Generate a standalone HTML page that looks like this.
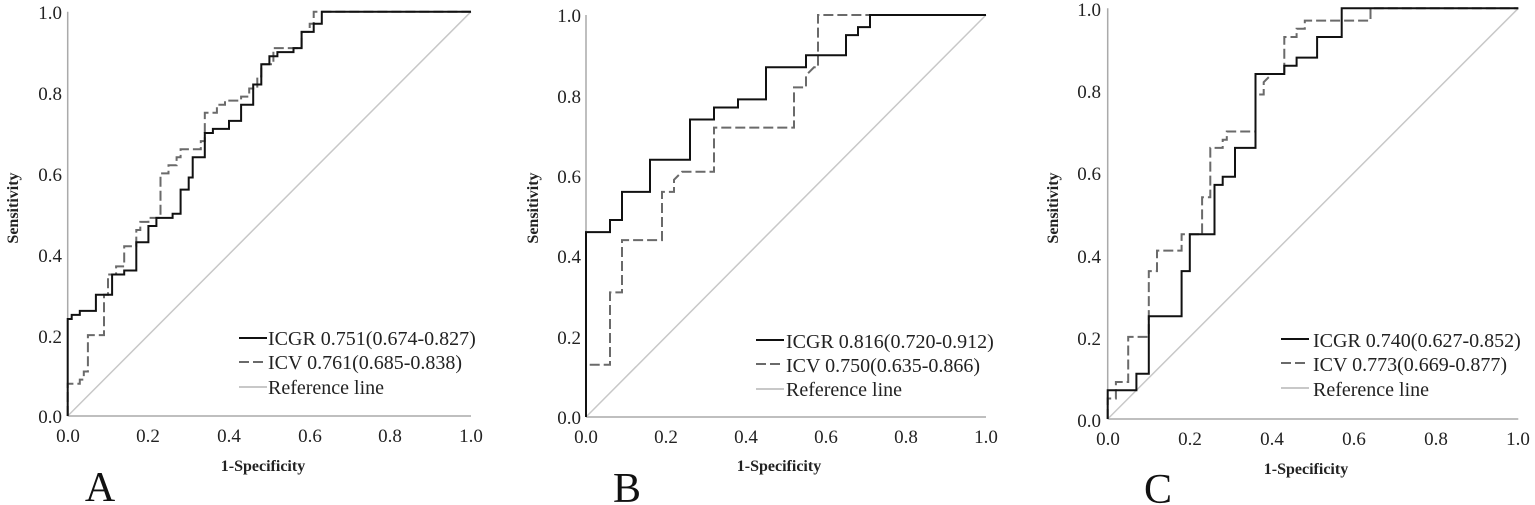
<!DOCTYPE html>
<html><head><meta charset="utf-8"><style>
html,body{margin:0;padding:0;background:#fff;}
svg{display:block;}
svg text{font-family:"Liberation Serif","DejaVu Serif",serif !important;}
</style></head><body>
<svg id="s" width="1535" height="505" xmlns="http://www.w3.org/2000/svg" font-family="Liberation Serif, DejaVu Serif, serif">
<rect width="1535" height="505" fill="#fff"/>
<g font-size="20" fill="#222" font-family="Liberation Serif, serif">
<!-- Panel A -->
<text x="62" y="19" text-anchor="end" font-size="19">1.0</text>
<text x="62" y="100" text-anchor="end" font-size="19">0.8</text>
<text x="62" y="181" text-anchor="end" font-size="19">0.6</text>
<text x="62" y="262" text-anchor="end" font-size="19">0.4</text>
<text x="62" y="343" text-anchor="end" font-size="19">0.2</text>
<text x="62" y="423" text-anchor="end" font-size="19">0.0</text>
<text x="68" y="442" text-anchor="middle" font-size="19">0.0</text>
<text x="148" y="442" text-anchor="middle" font-size="19">0.2</text>
<text x="229" y="442" text-anchor="middle" font-size="19">0.4</text>
<text x="310" y="442" text-anchor="middle" font-size="19">0.6</text>
<text x="390" y="442" text-anchor="middle" font-size="19">0.8</text>
<text x="471" y="442" text-anchor="middle" font-size="19">1.0</text>
<text x="263" y="471" text-anchor="middle" font-size="16" font-weight="bold">1-Specificity</text>
<text transform="translate(18,208) rotate(-90)" text-anchor="middle" font-size="16" font-weight="bold">Sensitivity</text>
<text x="100" y="501" text-anchor="middle" font-size="42" fill="#111">A</text>
<text x="268" y="345">ICGR 0.751(0.674-0.827)</text>
<text x="268" y="369">ICV 0.761(0.685-0.838)</text>
<text x="268" y="394">Reference line</text>
<!-- Panel B -->
<text x="581" y="22" text-anchor="end" font-size="19">1.0</text>
<text x="581" y="103" text-anchor="end" font-size="19">0.8</text>
<text x="581" y="183" text-anchor="end" font-size="19">0.6</text>
<text x="581" y="263" text-anchor="end" font-size="19">0.4</text>
<text x="581" y="344" text-anchor="end" font-size="19">0.2</text>
<text x="581" y="424" text-anchor="end" font-size="19">0.0</text>
<text x="586" y="443" text-anchor="middle" font-size="19">0.0</text>
<text x="666" y="443" text-anchor="middle" font-size="19">0.2</text>
<text x="746" y="443" text-anchor="middle" font-size="19">0.4</text>
<text x="826" y="443" text-anchor="middle" font-size="19">0.6</text>
<text x="906" y="443" text-anchor="middle" font-size="19">0.8</text>
<text x="986" y="443" text-anchor="middle" font-size="19">1.0</text>
<text x="779" y="471" text-anchor="middle" font-size="16" font-weight="bold">1-Specificity</text>
<text transform="translate(538,208) rotate(-90)" text-anchor="middle" font-size="16" font-weight="bold">Sensitivity</text>
<text x="627" y="502" text-anchor="middle" font-size="42" fill="#111">B</text>
<text x="786" y="348">ICGR 0.816(0.720-0.912)</text>
<text x="786" y="372">ICV 0.750(0.635-0.866)</text>
<text x="786" y="396">Reference line</text>
<!-- Panel C -->
<text x="1101" y="16" text-anchor="end" font-size="19">1.0</text>
<text x="1101" y="98" text-anchor="end" font-size="19">0.8</text>
<text x="1101" y="180" text-anchor="end" font-size="19">0.6</text>
<text x="1101" y="263" text-anchor="end" font-size="19">0.4</text>
<text x="1101" y="345" text-anchor="end" font-size="19">0.2</text>
<text x="1101" y="427" text-anchor="end" font-size="19">0.0</text>
<text x="1108" y="445" text-anchor="middle" font-size="19">0.0</text>
<text x="1190" y="445" text-anchor="middle" font-size="19">0.2</text>
<text x="1272" y="445" text-anchor="middle" font-size="19">0.4</text>
<text x="1354" y="445" text-anchor="middle" font-size="19">0.6</text>
<text x="1436" y="445" text-anchor="middle" font-size="19">0.8</text>
<text x="1518" y="445" text-anchor="middle" font-size="19">1.0</text>
<text x="1306" y="474" text-anchor="middle" font-size="16" font-weight="bold">1-Specificity</text>
<text transform="translate(1058,208) rotate(-90)" text-anchor="middle" font-size="16" font-weight="bold">Sensitivity</text>
<text x="1158" y="503" text-anchor="middle" font-size="42" fill="#111">C</text>
<text x="1313" y="347">ICGR 0.740(0.627-0.852)</text>
<text x="1313" y="371">ICV 0.773(0.669-0.877)</text>
<text x="1313" y="396">Reference line</text>
</g>
<g id="plots"></g>
</svg>
<script>
var P=[
{x0:67.7,x1:471,y0:416,y1:11.7,lx:239,ly:[338,362,387],
a:[0,0,0,.24,.01,.24,.01,.25,.03,.25,.03,.26,.07,.26,.07,.30,.11,.30,.11,.35,.14,.35,.14,.36,.17,.36,.17,.43,.2,.43,.2,.47,.22,.47,.22,.49,.26,.49,.26,.50,.28,.50,.28,.56,.3,.56,.3,.59,.31,.59,.31,.64,.34,.64,.34,.70,.36,.70,.36,.71,.4,.71,.4,.73,.43,.73,.43,.77,.46,.77,.46,.82,.48,.82,.48,.87,.5,.87,.5,.89,.52,.89,.52,.90,.56,.90,.56,.91,.58,.91,.58,.95,.61,.95,.61,.97,.63,.97,.63,1,1,1],
b:[0,0,0,.08,.03,.08,.03,.09,.04,.09,.04,.11,.05,.11,.05,.20,.09,.20,.09,.30,.1,.30,.1,.35,.12,.35,.12,.37,.14,.37,.14,.42,.17,.42,.17,.46,.18,.46,.18,.48,.2,.48,.2,.49,.23,.49,.23,.60,.25,.60,.25,.62,.27,.62,.27,.64,.28,.64,.28,.66,.33,.66,.33,.68,.34,.68,.34,.75,.37,.75,.37,.77,.39,.77,.39,.78,.43,.78,.43,.79,.45,.79,.45,.81,.47,.81,.47,.84,.48,.84,.48,.87,.51,.87,.51,.91,.58,.91,.58,.95,.6,.95,.6,.97,.61,.97,.61,1,1,1]},
{x0:586,x1:986,y0:417,y1:15,lx:756,ly:[340,364,389],
a:[0,0,0,.46,.06,.46,.06,.49,.09,.49,.09,.56,.16,.56,.16,.64,.26,.64,.26,.74,.32,.74,.32,.77,.38,.77,.38,.79,.45,.79,.45,.87,.55,.87,.55,.90,.65,.90,.65,.95,.68,.95,.68,.97,.71,.97,.71,1,1,1],
b:[0,0,0,.13,.06,.13,.06,.31,.09,.31,.09,.44,.19,.44,.19,.56,.22,.56,.22,.59,.24,.61,.32,.61,.32,.72,.52,.72,.52,.82,.55,.82,.55,.85,.57,.87,.58,.87,.58,1,1,1]},
{x0:1107.7,x1:1518.3,y0:419,y1:8.3,lx:1281,ly:[339,363,388],
a:[0,0,0,.07,.07,.07,.07,.11,.1,.11,.1,.25,.18,.25,.18,.36,.2,.36,.2,.45,.26,.45,.26,.57,.28,.57,.28,.59,.31,.59,.31,.66,.36,.66,.36,.84,.43,.84,.43,.86,.46,.86,.46,.88,.51,.88,.51,.93,.57,.93,.57,1,1,1],
b:[0,0,0,.05,.02,.05,.02,.09,.05,.09,.05,.20,.1,.20,.1,.36,.12,.36,.12,.41,.18,.41,.18,.45,.23,.45,.23,.54,.25,.54,.25,.66,.28,.66,.28,.68,.29,.68,.29,.70,.36,.70,.36,.79,.38,.79,.38,.82,.4,.84,.43,.84,.43,.93,.46,.93,.46,.95,.48,.95,.48,.97,.64,.97,.64,1,1,1]}
];
var h='';
P.forEach(function(p){
 function X(v){return (p.x0+v*(p.x1-p.x0)).toFixed(1);}
 function Y(v){return (p.y0-v*(p.y0-p.y1)).toFixed(1);}
 function pts(a){var s=[];for(var i=0;i<a.length;i+=2)s.push(X(a[i])+','+Y(a[i+1]));return s.join(' ');}
 h+='<line x1="'+p.x0+'" y1="'+p.y1+'" x2="'+p.x0+'" y2="'+p.y0+'" stroke="#aaa" stroke-width="1.5"/>';
 h+='<line x1="'+p.x0+'" y1="'+p.y0+'" x2="'+p.x1+'" y2="'+p.y0+'" stroke="#aaa" stroke-width="1.5"/>';
 h+='<line x1="'+p.x0+'" y1="'+p.y0+'" x2="'+p.x1+'" y2="'+p.y1+'" stroke="#c8c8c8" stroke-width="1.5"/>';
 h+='<polyline points="'+pts(p.b)+'" fill="none" stroke="#6a6a6a" stroke-width="2" stroke-dasharray="10,4"/>';
 h+='<polyline points="'+pts(p.a)+'" fill="none" stroke="#111" stroke-width="2"/>';
 var lx=p.lx;
 h+='<line x1="'+lx+'" y1="'+p.ly[0]+'" x2="'+(lx+28)+'" y2="'+p.ly[0]+'" stroke="#111" stroke-width="2"/>';
 h+='<line x1="'+lx+'" y1="'+p.ly[1]+'" x2="'+(lx+28)+'" y2="'+p.ly[1]+'" stroke="#6a6a6a" stroke-width="2" stroke-dasharray="10,4"/>';
 h+='<line x1="'+lx+'" y1="'+p.ly[2]+'" x2="'+(lx+28)+'" y2="'+p.ly[2]+'" stroke="#c8c8c8" stroke-width="2"/>';
});
document.getElementById('plots').innerHTML=h;
</script>
</body></html>
